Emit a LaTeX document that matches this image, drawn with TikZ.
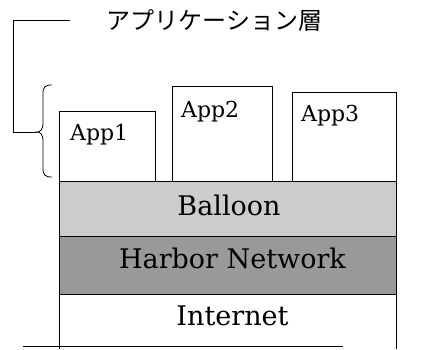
\documentclass[tikz,border=0pt]{standalone}
\usepackage{fontspec}
\setmainfont{DejaVu Serif}
\newfontfamily\jpfont{Noto Sans CJK JP}
\begin{document}
\begin{tikzpicture}[x=1pt,y=1pt,
  box/.style={draw,line width=0.8pt,inner sep=0,anchor=south west},
  lbl/.style={inner sep=0,anchor=base west,font=\fontsize{22}{26}\selectfont},
  lay/.style={inner sep=0,anchor=base,font=\fontsize{27}{32}\selectfont},
  ln/.style={line width=0.8pt}]
\useasboundingbox (0,0) rectangle (421,349);
% layers
\node[box,fill=black!20,minimum width=337pt,minimum height=55pt] (balloon) at (59,112) {};
\node[box,fill=black!40,minimum width=337pt,minimum height=58pt] (harbor) at (59,54) {};
\node[inner sep=0,minimum width=337pt,minimum height=54pt,anchor=south west] (inet) at (59,0) {};
\draw[ln] (inet.north west) -- (inet.south west);
\draw[ln] (inet.north east) -- (inet.south east);
\coordinate (bl) at (23,3);
\coordinate (br) at (343,3);
\draw[ln] (bl) -- (br);
% apps
\node[box,minimum width=96pt,minimum height=70pt] (app1) at (59,167) {};
\node[box,minimum width=100pt,minimum height=95pt] (app2) at (172,167) {};
\node[box,minimum width=104pt,minimum height=89pt] (app3) at (292,167) {};
\node[lbl] (t1) at (70,209) {App1};
\node[lbl] (t2) at (181,232) {App2};
\node[lbl] (t3) at (301,227) {App3};
\node[lay] (tb) at (229,134) {Balloon};
\node[lay] (th) at (232.5,81) {Harbor Network};
\node[lay] (ti) at (232.5,24) {Internet};
% title and bracket
\node[inner sep=0,font=\jpfont\fontsize{24}{28}\selectfont] (title) at (214.5,329) {アプリケーション層};
\coordinate (ls) at (70,329);
\coordinate (lc1) at (13,329);
\coordinate (lc2) at (13,217);
\coordinate (tip) at (37,217);
\draw[ln] (ls) -- (lc1) -- (lc2) -- (tip);
\draw[ln] (52,264) .. controls (45,264) and (43,262) .. (43,255) -- (43,226)
  .. controls (43,219) and (40,217) .. (tip)
  .. controls (40,217) and (43,215) .. (43,208) -- (43,181)
  .. controls (43,174) and (45,172) .. (52,172);
\end{tikzpicture}
\end{document}
